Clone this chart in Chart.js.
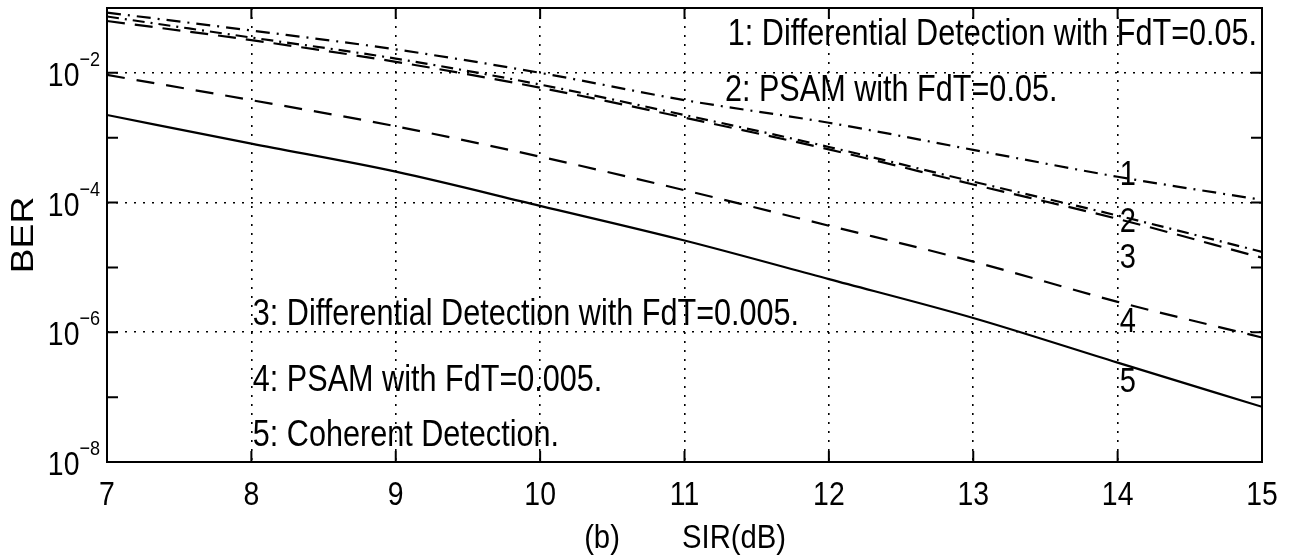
<!DOCTYPE html>
<html lang="en">
<head>
  <meta charset="UTF-8">
  <title>BER vs SIR</title>
  <script src="https://cdn.jsdelivr.net/npm/chart.js"></script>
  <style>
    html, body { margin: 0; padding: 0; background: #fff; }
    canvas { display: block; }
  </style>
</head>
<body>

  <canvas id="berChart" width="1294" height="559"></canvas>

  <script>
    // SIR (dB) sample points
    const sir = [7, 8, 9, 10, 11, 12, 13, 14, 15];

    // BER
    const berDiff05  = [8.5e-2, 4.5e-2, 2.3e-2, 1.0e-2, 3.8e-3, 1.7e-3, 6.5e-4, 2.5e-4, 1.1e-4];
    const berPsam05  = [7.4e-2, 3.5e-2, 1.66e-2, 6.6e-3, 2.24e-3, 7.2e-4, 2.1e-4, 6.3e-5, 1.74e-5];
    const berDiff005 = [6.3e-2, 3.2e-2, 1.48e-2, 5.9e-3, 2.04e-3, 6.6e-4, 1.9e-4, 5.6e-5, 1.41e-5];
    const berPsam005 = [9.3e-3, 3.8e-3, 1.5e-3, 5.1e-4, 1.55e-4, 4.4e-5, 1.23e-5, 2.95e-6, 8.3e-7];
    const berCoh     = [2.24e-3, 8.1e-4, 3.0e-4, 8.9e-5, 2.6e-5, 6.6e-6, 1.66e-6, 3.4e-7, 7.1e-8];

    const xTicks = [7, 8, 9, 10, 11, 12, 13, 14, 15];
    const yTicks = [1e-8, 1e-6, 1e-4, 1e-2];
    const yMinorTicks = [1e-7, 1e-5, 1e-3];
    const yTickExp = ['\u22128', '\u22126', '\u22124', '\u22122'];

    const legendLines = [
      '1: Differential Detection with FdT=0.05.',
      '2: PSAM with FdT=0.05.',
      '3: Differential Detection with FdT=0.005.',
      '4: PSAM with FdT=0.005.',
      '5: Coherent Detection.'
    ];
    const curveLabels = ['1', '2', '3', '4', '5'];

    const FONT = '"Liberation Sans", Arial, sans-serif';

    function squeezeText(ctx, str, x, y, size, align, sx) {
      ctx.save();
      ctx.font = size + 'px ' + FONT;
      ctx.fillStyle = '#000';
      ctx.textAlign = align;
      ctx.textBaseline = 'alphabetic';
      ctx.translate(x, y);
      ctx.scale(sx, 1);
      ctx.fillText(str, 0, 0);
      ctx.restore();
    }

    function textWidth(ctx, str, size, sx) {
      ctx.save();
      ctx.font = size + 'px ' + FONT;
      const w = ctx.measureText(str).width * sx;
      ctx.restore();
      return w;
    }

    // frame, inward ticks and all the text (matlab look)
    const matlabDecor = {
      id: 'matlabDecor',
      afterDraw(chart) {
        const { ctx, chartArea: a, scales: { x, y } } = chart;
        ctx.save();
        ctx.strokeStyle = '#000';
        ctx.lineWidth = 2;
        ctx.strokeRect(a.left, a.top, a.right - a.left, a.bottom - a.top);

        ctx.beginPath();
        xTicks.forEach(v => {
          const px = x.getPixelForValue(v);
          ctx.moveTo(px, a.bottom); ctx.lineTo(px, a.bottom - 11);
          ctx.moveTo(px, a.top); ctx.lineTo(px, a.top + 11);
        });
        yTicks.concat(yMinorTicks).forEach(v => {
          const py = y.getPixelForValue(v);
          ctx.moveTo(a.left, py); ctx.lineTo(a.left + 11, py);
          ctx.moveTo(a.right, py); ctx.lineTo(a.right - 11, py);
        });
        ctx.stroke();
        ctx.restore();

        // x tick labels
        xTicks.forEach(v => {
          squeezeText(ctx, String(v), x.getPixelForValue(v), a.bottom + 43, 33, 'center', 0.86);
        });

        // y tick labels 10^n
        yTicks.forEach((v, i) => {
          const py = y.getPixelForValue(v);
          const right = a.left - 7;
          const ew = textWidth(ctx, yTickExp[i], 21, 0.86);
          squeezeText(ctx, yTickExp[i], right, py - 7, 21, 'right', 0.86);
          squeezeText(ctx, '10', right - ew, py + 13, 33, 'right', 0.86);
        });

        // axis titles
        ctx.save();
        ctx.translate(33, (a.top + a.bottom) / 2);
        ctx.rotate(-Math.PI / 2);
        squeezeText(ctx, 'BER', 0, 0, 31, 'center', 1.2);
        ctx.restore();
        squeezeText(ctx, '(b)', 602, a.bottom + 86, 34, 'center', 0.86);
        squeezeText(ctx, 'SIR(dB)', 682, a.bottom + 86, 34, 'left', 0.86);

        // legend text placed in data coordinates
        const legendPos = [[11.30, -1.57], [11.28, -2.43], [8.01, -5.89], [8.01, -6.90], [8.01, -7.75]];
        legendLines.forEach((t, i) => {
          const [lx, ly] = legendPos[i];
          squeezeText(ctx, t, x.getPixelForValue(lx), y.getPixelForValue(Math.pow(10, ly)), 36, 'left', 0.85);
        });

        // curve numbers near SIR = 14
        const labelLog = [-3.73, -4.45, -5.01, -6.0, -6.92];
        curveLabels.forEach((t, i) => {
          squeezeText(ctx, t, x.getPixelForValue(14) + 2, y.getPixelForValue(Math.pow(10, labelLog[i])), 35, 'left', 0.83);
        });
      }
    };

    function line(data, dash) {
      return {
        data: data,
        borderColor: '#000',
        borderWidth: 2.2,
        borderDash: dash,
        pointRadius: 0,
        fill: false,
        cubicInterpolationMode: 'monotone'
      };
    }

    const chartData = {
      labels: sir,
      datasets: [
        line(berDiff05, [14, 7, 2, 7]),
        line(berPsam05, [12, 6, 2, 6]),
        line(berDiff005, [18, 10]),
        line(berPsam005, [18, 12]),
        line(berCoh, [])
      ]
    };

    const gridStyle = {
      color: '#000',
      lineWidth: 1.6,
      drawTicks: false
    };

    const options = {
      responsive: false,
      animation: false,
      layout: { padding: { left: 107, right: 32, top: 8, bottom: 97 } },
      plugins: {
        legend: { display: false },
        tooltip: { enabled: false }
      },
      scales: {
        x: {
          type: 'linear',
          min: 7,
          max: 15,
          afterBuildTicks: scale => { scale.ticks = xTicks.map(v => ({ value: v })); },
          ticks: { display: false },
          grid: gridStyle,
          border: { display: false, dash: [2, 7] }
        },
        y: {
          type: 'logarithmic',
          min: 1e-8,
          max: 1e-1,
          afterBuildTicks: scale => { scale.ticks = yTicks.map(v => ({ value: v })); },
          ticks: { display: false },
          grid: gridStyle,
          border: { display: false, dash: [2, 7] }
        }
      }
    };

    const ctx = document.getElementById('berChart').getContext('2d');
    new Chart(ctx, { type: 'line', data: chartData, options: options, plugins: [matlabDecor] });
  </script>

</body>
</html>
